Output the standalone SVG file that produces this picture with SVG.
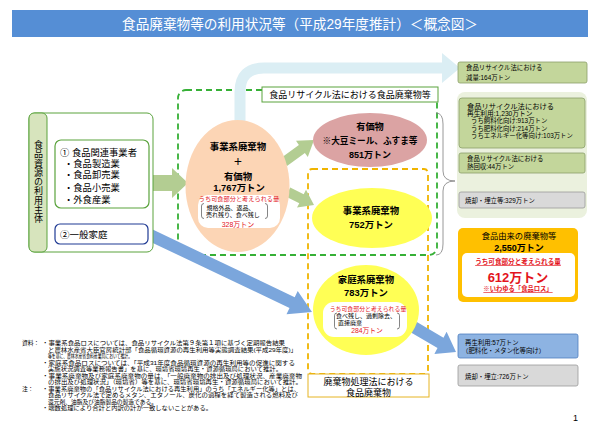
<svg xmlns="http://www.w3.org/2000/svg" width="600" height="431" viewBox="0 0 600 431">
<style>
text{font-family:"Liberation Sans","Noto Sans CJK JP",sans-serif;fill:#000}
.m{text-anchor:middle}
.b{font-weight:bold}
.red{fill:#e3141c}
.rb{fill:#c3d69b;stroke:#8a9f6a;stroke-width:0.8}
.gb{fill:#d9d9d9;stroke:#9a9a9a;stroke-width:0.8}
.s65{font-size:6.4px}
.n{font-size:5.8px}
.br{fill:none;stroke:#333;stroke-width:0.6}
.dash{fill:none;stroke-width:1.8;stroke-dasharray:6 4}
.ga{fill:#b3cd92}
.ba{fill:#7ba6dc}
</style>

<g id="title">
<rect x="12" y="10" width="576" height="27" fill="#558ed5"/>
<text x="300" y="28.5" class="m" font-size="14" style="fill:#fff" textLength="356" lengthAdjust="spacingAndGlyphs">食品廃棄物等の利用状況等（平成29年度推計）＜概念図＞</text>
</g>

<g id="regions">
<rect x="178" y="90" width="259" height="165" rx="8" class="dash" stroke="#36b036"/>
<rect x="308" y="169" width="120" height="205" rx="4" class="dash" stroke="#f0b400"/>
</g>

<g id="connectors">
<path d="M240,128 V92 Q240,68 264,68 H443" fill="none" stroke="#dbeef4" stroke-width="11"/>
<polygon points="442,53 460,68 442,83" fill="#dbeef4"/>
<polygon class="ga" points="149,175 172,175 172,168 188,183 172,198 172,191 149,191"/>
<polygon class="ga" points="281,158 298.9,144.9 296,140.8 314,140 307.8,157 304.9,152.9 287,166"/>
<polygon class="ga" points="290.2,187.5 303.7,194.2 306,189.8 314,205 297,207.6 299.3,203.2 285.8,196.5"/>
<polygon class="ba" points="150.6,228.6 294.7,297.2 297.7,290.9 312,312 286.5,314.3 289.5,308 145.4,239.4"/>
<polygon class="ba" points="408,316.8 443.5,337.7 446.6,331.7 456,352 434.4,354.1 437.5,348.1 402,327.2"/>
<path d="M436,113 Q443,113 443,124 V171 Q443,181 455,181 Q443,181 443,191 V244 Q443,255 436,255" fill="none" stroke="#7f7f7f" stroke-width="0.8"/>
</g>

<g id="users">
<rect x="29" y="113" width="124" height="139" rx="6" fill="#fff" stroke="#5aa33d"/>
<rect x="29" y="113" width="18" height="139" rx="5" fill="#d7e4bd" stroke="#5aa33d"/>
<text x="38" y="140" font-size="9" style="writing-mode:vertical-rl" letter-spacing="0.3">食品資源の利用主体</text>
</g>

<g id="business">
<rect x="55" y="140" width="94" height="68" rx="6" fill="#fff" stroke="#5aa33d" stroke-width="1.2"/>
<text x="60" y="155.5" font-size="9.3">① 食品関連事業者</text>
<text x="64" y="166.5" font-size="9.3">・食品製造業</text>
<text x="64" y="178.3" font-size="9.3">・食品卸売業</text>
<text x="64" y="190.6" font-size="9.3">・食品小売業</text>
<text x="64" y="202.6" font-size="9.3">・外食産業</text>
</g>

<g id="household">
<rect x="55" y="224" width="93" height="20" rx="5" fill="#fff" stroke="#1f3a93" stroke-width="1.2"/>
<text x="60" y="237.5" font-size="9.5">②一般家庭</text>
</g>

<g id="law-label">
<rect x="262" y="87" width="176" height="15" fill="#fff" stroke="#5aa33d"/>
<text x="350" y="98" class="m" font-size="9">食品リサイクル法における食品廃棄物等</text>
</g>

<g id="business-total">
<ellipse cx="237.5" cy="186" rx="52" ry="66" fill="#fcd5b5"/>
<text x="238" y="150.3" class="m b" font-size="9.4">事業系廃棄物</text>
<text x="238" y="165.3" class="m b" font-size="9.4">＋</text>
<text x="238" y="180" class="m b" font-size="9.4">有価物</text>
<text x="239" y="190.6" class="m b" font-size="9.4">1,767万トン</text>
<rect x="198" y="195" width="82" height="33" rx="10" fill="#fff"/>
<text x="239" y="201.3" class="m red" font-size="6.2">うち可食部分と考えられる量</text>
<text x="206.5" y="210.2" font-size="6">規格外品、返品、</text>
<text x="206" y="217.2" font-size="6">売れ残り、食べ残し</text>
<text x="238" y="226.6" class="m red" font-size="7">328万トン</text>
<path class="br" d="M204,203.5 Q201.5,203.5 201.5,206 V216 Q201.5,218.5 204,218.5"/>
<path class="br" d="M265,203.5 Q267.5,203.5 267.5,206 V216 Q267.5,218.5 265,218.5"/>
</g>

<g id="valuables">
<ellipse cx="370" cy="140" rx="57" ry="27" fill="#dba3a3"/>
<text x="370" y="130.3" class="m b" font-size="9.2">有価物</text>
<text x="370" y="144.3" class="m b" font-size="9" textLength="95" lengthAdjust="spacingAndGlyphs">※大豆ミール、ふすま等</text>
<text x="370" y="158" class="m b" font-size="9">851万トン</text>
</g>

<g id="business-waste">
<ellipse cx="372" cy="218" rx="60" ry="30" fill="#ffff55"/>
<text x="371" y="214.3" class="m b" font-size="9.4">事業系廃棄物</text>
<text x="371" y="228.3" class="m b" font-size="9.4">752万トン</text>
</g>

<g id="household-waste">
<ellipse cx="366" cy="310" rx="53" ry="45" fill="#ffff55"/>
<text x="366" y="283.3" class="m b" font-size="9.4">家庭系廃棄物</text>
<text x="366" y="295.5" class="m b" font-size="9.4">783万トン</text>
<rect x="323" y="302" width="84" height="35" rx="11" fill="#fff"/>
<text x="368" y="311.2" class="m red" font-size="5.9">うち可食部分と考えられる量</text>
<text x="336" y="318.2" font-size="6">食べ残し、過剰除去、</text>
<text x="338" y="325.2" font-size="6">直接廃棄</text>
<text x="367" y="332.6" class="m red" font-size="6.8">284万トン</text>
<path class="br" d="M337,313 Q334.5,313 334.5,315.5 V326.5 Q334.5,329 337,329"/>
<path class="br" d="M397,313 Q399.5,313 399.5,315.5 V326.5 Q399.5,329 397,329"/>
</g>

<g id="waste-law-label">
<rect x="308" y="374" width="121" height="23" fill="#fff" stroke="#e6b422"/>
<text x="368.5" y="385" class="m" font-size="9">廃棄物処理法における</text>
<text x="368.5" y="396" class="m" font-size="9">食品廃棄物</text>
</g>

<g id="reduction">
<rect x="458" y="62" width="129" height="21" rx="2" class="rb"/>
<text x="466" y="70.3" font-size="6.4">食品リサイクル法における</text>
<text x="466" y="80.2" font-size="6.4">減量:164万トン</text>
</g>

<g id="recycle-group">
<rect x="457" y="92" width="130" height="126" rx="8" fill="#ebf1de"/>
</g>

<g id="recycle">
<rect x="459" y="98" width="126" height="50" rx="3" class="rb"/>
<text x="467" y="108.6" font-size="6.9" textLength="87" lengthAdjust="spacingAndGlyphs">食品リサイクル法における</text>
<text x="467" y="116" font-size="6.7">再生利用:1,230万トン</text>
<text x="471" y="123.3" class="s65">うち飼料化向け:913万トン</text>
<text x="471" y="130.6" class="s65">うち肥料化向け:214万トン</text>
<text x="471" y="137.9" class="s65">うちエネルギー化等向け:103万トン</text>
</g>

<g id="heat">
<rect x="459" y="153" width="126" height="20" rx="2" class="rb"/>
<text x="467" y="161.3" class="s65">食品リサイクル法における</text>
<text x="467" y="169.3" class="s65">熱回収:44万トン</text>
</g>

<g id="incineration1">
<rect x="459" y="192" width="126" height="16" rx="2" class="gb"/>
<text x="465" y="203" class="s65">焼却・埋立等:329万トン</text>
</g>

<g id="food-loss">
<rect x="458" y="228" width="120" height="74" rx="5" fill="#ffc000"/>
<text x="519" y="239" class="m" font-size="8.3">食品由来の廃棄物等</text>
<text x="519" y="250.6" class="m b" font-size="9">2,550万トン</text>
<rect x="462" y="253" width="113" height="44" rx="5" fill="#fff"/>
<text x="518" y="264.3" class="m red b" font-size="6.6" text-decoration="underline">うち可食部分と考えられる量</text>
<text x="518" y="281.5" class="m red b" font-size="13">612万トン</text>
<text x="518" y="291.3" class="m red b" font-size="6.3" text-decoration="underline">※いわゆる「食品ロス」</text>
</g>

<g id="household-recycle">
<rect x="458" y="334" width="120" height="24" rx="2" fill="#8db3e2" stroke="#4f7fbf" stroke-width="0.8"/>
<text x="465" y="345.3" class="s65">再生利用:57万トン</text>
<text x="462" y="353.3" class="s65">（肥料化・メタン化等向け）</text>
</g>

<g id="incineration2">
<rect x="458" y="365" width="120" height="21" rx="2" class="gb"/>
<text x="465" y="379" class="s65">焼却・埋立:726万トン</text>
</g>

<g id="notes">
<text x="22" y="345" class="n">資料：</text>
<text x="42" y="345" class="n" textLength="243" lengthAdjust="spacingAndGlyphs">・事業系食品ロスについては、食品リサイクル法第９条第１項に基づく定期報告結果</text>
<text x="48" y="351.5" class="n" textLength="249" lengthAdjust="spacingAndGlyphs">と農林水産省大臣官房統計部「食品循環資源の再生利用等実態調査結果(平成29年度)」</text>
<text x="48" y="358" class="n" textLength="84" lengthAdjust="spacingAndGlyphs">等を基に、農林水産省食料産業局において推計。</text>
<text x="42" y="364.5" class="n" textLength="253" lengthAdjust="spacingAndGlyphs">・家庭系食品ロスについては、「平成31年度食品循環資源の再生利用等の促進に関する</text>
<text x="48" y="371" class="n" textLength="234" lengthAdjust="spacingAndGlyphs">実施状況調査等業務報告書」を基に、環境省環境再生・資源循環局において推計。</text>
<text x="42" y="377.5" class="n" textLength="260" lengthAdjust="spacingAndGlyphs">・事業系廃棄物及び家庭系廃棄物の量は、「一般廃棄物の排出及び処理状況、産業廃棄物</text>
<text x="48" y="384" class="n" textLength="254" lengthAdjust="spacingAndGlyphs">の排出及び処理状況」（環境省）等を基に、環境省環境再生・資源循環局において推計。</text>
<text x="22" y="390.5" class="n">注：</text>
<text x="42" y="390.5" class="n" textLength="258" lengthAdjust="spacingAndGlyphs">・事業系廃棄物の「食品リサイクル法における再生利用」のうち「エネルギー化等」とは、</text>
<text x="48" y="397" class="n" textLength="250" lengthAdjust="spacingAndGlyphs">食品リサイクル法で定めるメタン、エタノール、炭化の過程を経て製造される燃料及び</text>
<text x="48" y="403.5" class="n" textLength="109" lengthAdjust="spacingAndGlyphs">還元剤、油脂及び油脂製品の製造である。</text>
<text x="42" y="410" class="n" textLength="170" lengthAdjust="spacingAndGlyphs">・端数処理により合計と内訳の計が一致しないことがある。</text>
</g>

<g id="page">
<text x="573" y="420.5" font-size="9">1</text>
</g>
</svg>
